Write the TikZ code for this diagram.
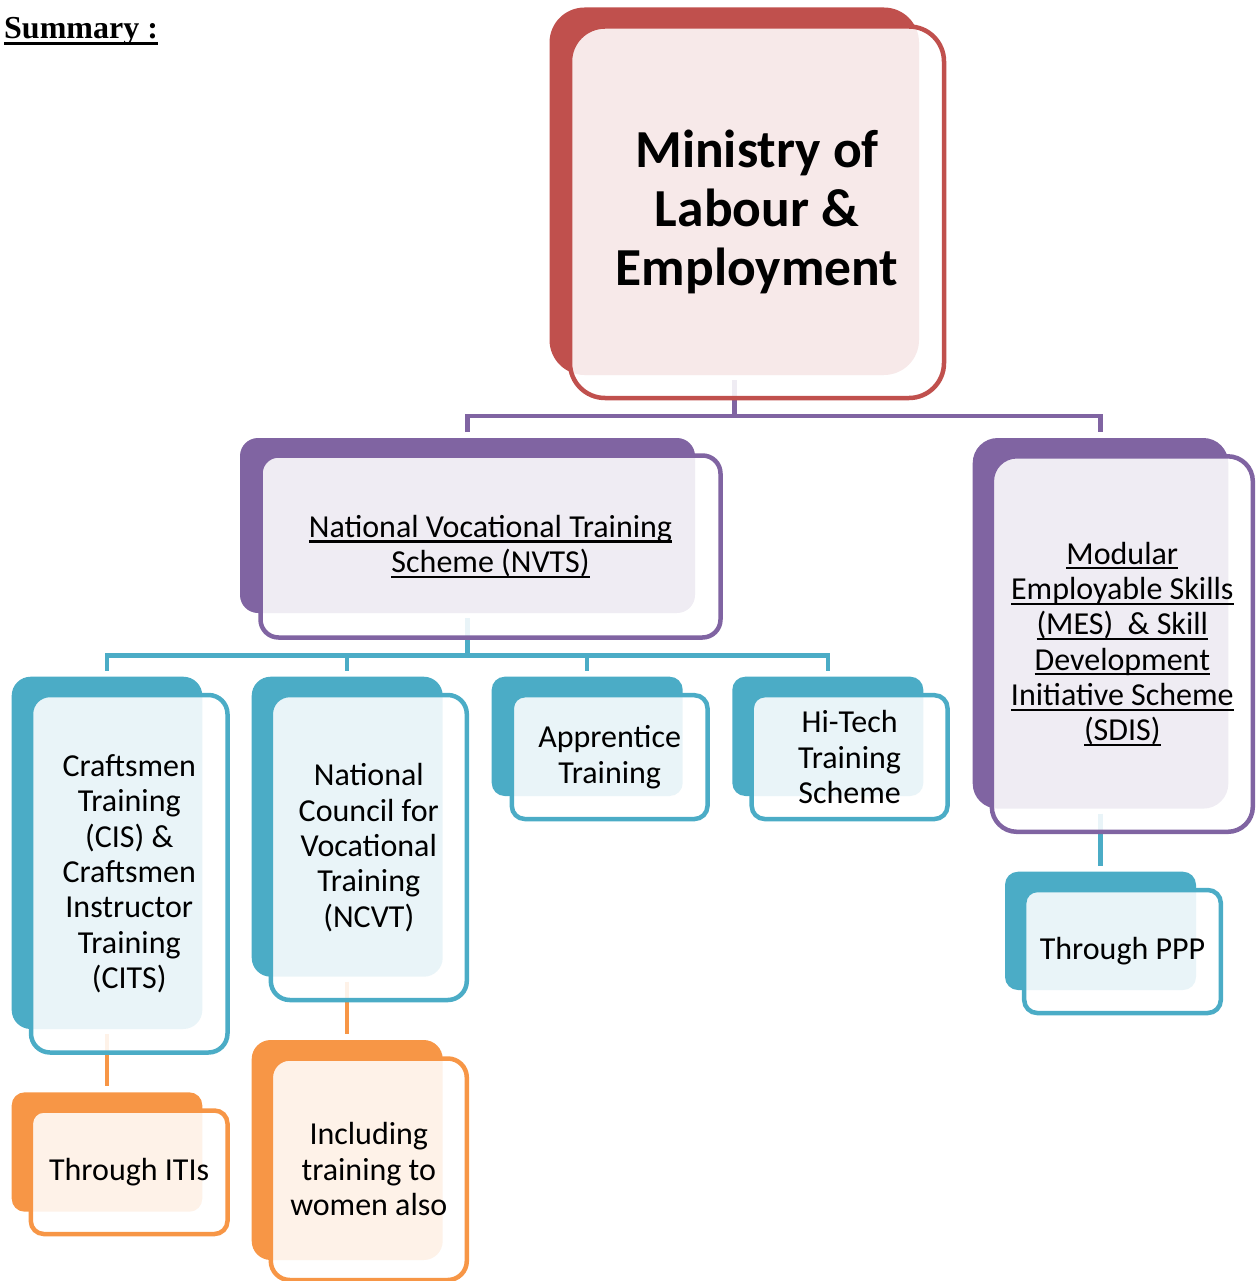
\documentclass[tikz,border=0pt]{standalone}
\usepackage{fontspec}
\setmainfont{Carlito}
\newfontfamily\tnr{Liberation Serif}
\usetikzlibrary{fit,calc}
\definecolor{acRed}{HTML}{C0504D}
\definecolor{acPur}{HTML}{8064A2}
\definecolor{acCyan}{HTML}{4BACC6}
\definecolor{acOra}{HTML}{F79646}
\newsavebox\ulbox
\newcommand\ulx[1]{\sbox\ulbox{#1}\leavevmode\hbox{\rlap{\rule[-0.16em]{\wd\ulbox}{0.065em}}\usebox\ulbox}}
\tikzset{
  back/.style={fill=#1, draw=none, inner sep=0pt, outer sep=0pt},
  front/.style={draw=#1, fill=white, fill opacity=0.88, text opacity=1,
    line width=4.5pt, inner sep=0pt, outer sep=0pt, align=center, text=black},
  link/.style={draw=#1, line width=4.5pt},
  body/.style={font=\fontsize{32}{35.3}\selectfont},
}
\begin{document}
\begin{tikzpicture}[x=1pt,y=-1pt]
\useasboundingbox (0,0) rectangle (1258,1281);

% heading
\node[anchor=base west, inner sep=0pt, font=\tnr\bfseries\fontsize{32}{38}\selectfont] (sum) at (4,39)
  {\sbox\ulbox{Summary :}\rlap{\rule[-6pt]{\wd\ulbox}{3pt}}\usebox\ulbox};

% coloured back plates
\node[back=acRed, rounded corners=35pt, fit={(549.5,7.5) (919,375)}] (minB) {};
\node[back=acPur, rounded corners=18pt, fit={(240,438) (695,613)}] (nvtsB) {};
\node[back=acPur, rounded corners=25pt, fit={(972.7,438) (1228.3,808.6)}] (mesB) {};
\node[back=acCyan, rounded corners=19pt, fit={(11.7,676.7) (202.3,1029)}] (cisB) {};
\node[back=acCyan, rounded corners=19pt, fit={(251.7,676.7) (442.7,976.7)}] (ncvtB) {};
\node[back=acCyan, rounded corners=13pt, fit={(491.7,676.7) (682.7,796)}] (appB) {};
\node[back=acCyan, rounded corners=13pt, fit={(732.3,676.7) (923.3,796)}] (hitB) {};
\node[back=acCyan, rounded corners=13pt, fit={(1005,871.7) (1196,990)}] (pppB) {};
\node[back=acOra, rounded corners=13pt, fit={(11.7,1092.3) (202.3,1211.7)}] (itiB) {};
\node[back=acOra, rounded corners=19pt, fit={(251.7,1040) (442.7,1260)}] (womB) {};

% connectors
\draw[link=acPur] ($(minB.south)+(0,5)$) -- ($(minB.south)+(0,41)$);
\draw[link=acPur] ($(nvtsB.north)+(0,-6)$) |- ($(mesB.north)+(0,-22)$) -- ($(mesB.north)+(0,-6)$);
\draw[link=acCyan] ($(nvtsB.south)+(0,5)$) -- ($(nvtsB.south)+(0,43)$);
\draw[link=acCyan] ($(cisB.north)+(0,-6)$) |- ($(hitB.north)+(0,-21)$) -- ($(hitB.north)+(0,-6)$);
\draw[link=acCyan] ($(ncvtB.north)+(0,-6)$) -- ($(ncvtB.north)+(0,-21)$);
\draw[link=acCyan] ($(appB.north)+(0,-6)$) -- ($(appB.north)+(0,-21)$);
\draw[link=acCyan] ($(mesB.south)+(0,5)$) -- ($(pppB.north)+(0,-6)$);
\draw[link=acOra] ($(cisB.south)+(0,5)$) -- ($(itiB.north)+(0,-6)$);
\draw[link=acOra] ($(ncvtB.south)+(0,5)$) -- ($(womB.north)+(0,-6)$);

% translucent framed fronts with the texts
\node[front=acRed, rounded corners=35pt, minimum width=374pt, minimum height=371.5pt,
  font=\bfseries\fontsize{53.5}{59}\selectfont] (min) at (757,212.25) {Ministry of\\Labour \&\\Employment};
\node[front=acPur, rounded corners=18pt, minimum width=460pt, minimum height=182pt, body] (nvts) at (490.5,546.5)
  {\ulx{National Vocational Training}\\\ulx{Scheme (NVTS)}};
\node[front=acPur, rounded corners=25pt, minimum width=261pt, minimum height=375.5pt, body] (mes) at (1122.3,644.05)
  {\ulx{Modular}\\\ulx{Employable Skills}\\\ulx{(MES)\ \ \& Skill}\\\ulx{Development}\\\ulx{Initiative Scheme}\\\ulx{(SDIS)}};
\node[front=acCyan, rounded corners=19pt, minimum width=196.5pt, minimum height=357.5pt, body] (cis) at (129.25,873.75)
  {Craftsmen\\Training\\(CIS) \&\\Craftsmen\\Instructor\\Training\\(CITS)};
\node[front=acCyan, rounded corners=19pt, minimum width=196pt, minimum height=305pt, body] (ncvt) at (368.8,847.5)
  {National\\Council for\\Vocational\\Training\\(NCVT)};
\node[front=acCyan, rounded corners=13pt, minimum width=195.7pt, minimum height=123.8pt, body] (app) at (609.65,757.1)
  {Apprentice\\Training};
\node[front=acCyan, rounded corners=13pt, minimum width=195.8pt, minimum height=123.8pt, body] (hit) at (849.6,757.1)
  {Hi-Tech\\Training\\Scheme};
\node[front=acCyan, rounded corners=13pt, minimum width=196.6pt, minimum height=123pt, body] (ppp) at (1122.5,951.5)
  {Through PPP};
\node[front=acOra, rounded corners=13pt, minimum width=196.7pt, minimum height=123.5pt, body] (iti) at (129.15,1172.25)
  {Through ITIs};
\node[front=acOra, rounded corners=19pt, minimum width=196pt, minimum height=221.5pt, body] (wom) at (368.8,1169.25)
  {Including\\training to\\women also};
\end{tikzpicture}
\end{document}
